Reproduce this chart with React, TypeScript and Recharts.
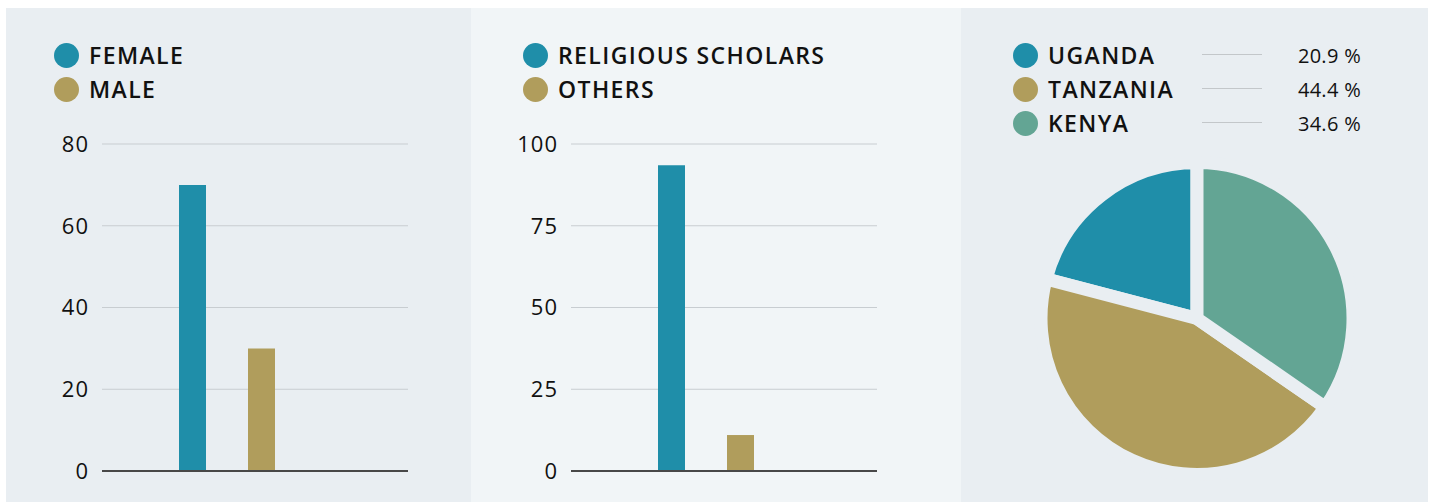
import { BarChart, Bar, XAxis, YAxis, CartesianGrid, ReferenceLine, PieChart, Pie, Cell } from "recharts"

const FONT = "'Open Sans', 'DejaVu Sans', sans-serif"
const TEAL = "#1f8ea9"
const GOLD = "#b09d5c"
const SAGE = "#63a594"
const PANEL_DARK = "#e9eef2"
const PANEL_LIGHT = "#f1f5f7"

const genderLabels = ["FEMALE", "MALE"]
const genderValues = [70, 30]
const genderTicks = [0, 20, 40, 60, 80]

const roleLabels = ["RELIGIOUS SCHOLARS", "OTHERS"]
const roleValues = [93.5, 11]
const roleTicks = [0, 25, 50, 75, 100]

const countryLabels = ["UGANDA", "TANZANIA", "KENYA"]
const countryShares = [20.9, 44.4, 34.6]
const countryColors = [TEAL, GOLD, SAGE]

const legendText = { fontFamily: FONT, fontWeight: 600, fontSize: 23, color: "#111", letterSpacing: 1.4 }

function Dot({ color }: { color: string }) {
  return <span style={{ width: 25, height: 25, borderRadius: "50%", background: color, display: "inline-block", flexShrink: 0 }} />
}

function BarPanel(props: {
  left: number
  width: number
  bg: string
  labels: string[]
  values: number[]
  ticks: number[]
  plotLeft: number
  plotRight: number
  padRight: number
  legendLeft: number
}) {
  const { left, width, bg, labels, values, ticks, plotLeft, plotRight, padRight, legendLeft } = props
  const colors = [TEAL, GOLD]
  // one category, one bar per series
  const row: Record<string, number | string> = { group: "" }
  labels.forEach((l, i) => (row[l] = values[i]))

  return (
    <div style={{ position: "absolute", left, top: 8, width, height: 494, background: bg }}>
      {/* legend */}
      <div style={{ position: "absolute", left: legendLeft, top: 30 }}>
        {labels.map((l, i) => (
          <div key={l} style={{ height: 34, display: "flex", alignItems: "center", gap: 10 }}>
            <Dot color={colors[i]} />
            <span style={legendText}>{l}</span>
          </div>
        ))}
      </div>

      <div style={{ position: "absolute", left: 0, top: 0 }}>
        <BarChart
          width={width}
          height={494}
          data={[row]}
          margin={{ top: 136, right: width - plotRight, left: plotLeft - 60, bottom: 31 }}
          barSize={27}
          barGap={42}
        >
          <CartesianGrid stroke="#c8cdd1" vertical={false} />
          <XAxis
            dataKey="group"
            height={0}
            tick={false}
            tickLine={false}
            axisLine={false}
            padding={{ left: 0, right: padRight }}
          />
          <YAxis
            width={60}
            axisLine={false}
            tickLine={false}
            tickSize={0}
            tickMargin={13}
            domain={[ticks[0], ticks[ticks.length - 1]]}
            ticks={ticks}
            interval={0}
            tick={{ fill: "#111", fontSize: 22, fontFamily: FONT, letterSpacing: 1 }}
          />
          {labels.map((l, i) => (
            <Bar key={l} dataKey={l} fill={colors[i]} isAnimationActive={false} />
          ))}
          <ReferenceLine y={0} stroke="#484848" strokeWidth={2} />
        </BarChart>
      </div>
    </div>
  )
}

function PiePanel() {
  const data = countryLabels.map((name, i) => ({ name, value: countryShares[i] }))
  return (
    <div style={{ position: "absolute", left: 961, top: 8, width: 467, height: 494, background: PANEL_DARK }}>
      {/* legend with leader lines and shares */}
      <div style={{ position: "absolute", left: 52, top: 30, width: 348 }}>
        {data.map((d, i) => (
          <div key={d.name} style={{ height: 34, display: "flex", alignItems: "center", position: "relative" }}>
            <Dot color={countryColors[i]} />
            <span style={{ ...legendText, marginLeft: 10 }}>{d.name}</span>
            <span style={{ position: "absolute", left: 189, top: 16, width: 60, height: 1, background: "#c3c7ca" }} />
            <span style={{ position: "absolute", right: 0, fontFamily: FONT, fontSize: 20, color: "#111", letterSpacing: 0.3 }}>
              {d.value.toFixed(1)} %
            </span>
          </div>
        ))}
      </div>

      <div style={{ position: "absolute", left: 0, top: 0 }}>
        <PieChart width={467} height={494}>
          <Pie
            data={data}
            dataKey="value"
            nameKey="name"
            cx={231}
            cy={305.5}
            outerRadius={156}
            startAngle={90}
            endAngle={450}
            stroke={PANEL_DARK}
            strokeWidth={13}
            isAnimationActive={false}
          >
            {data.map((d, i) => (
              <Cell key={d.name} fill={countryColors[i]} />
            ))}
          </Pie>
        </PieChart>
      </div>
    </div>
  )
}

export default function App() {
  return (
    <div style={{ position: "absolute", left: 0, top: 0, width: 1434, height: 502, background: "#fff", overflow: "hidden" }}>
      <BarPanel
        left={6}
        width={465}
        bg={PANEL_DARK}
        labels={genderLabels}
        values={genderValues}
        ticks={genderTicks}
        plotLeft={96}
        plotRight={402}
        padRight={56}
        legendLeft={48}
      />
      <BarPanel
        left={471}
        width={490}
        bg={PANEL_LIGHT}
        labels={roleLabels}
        values={roleValues}
        ticks={roleTicks}
        plotLeft={100}
        plotRight={406}
        padRight={36}
        legendLeft={52}
      />
      <PiePanel />
    </div>
  )
}
